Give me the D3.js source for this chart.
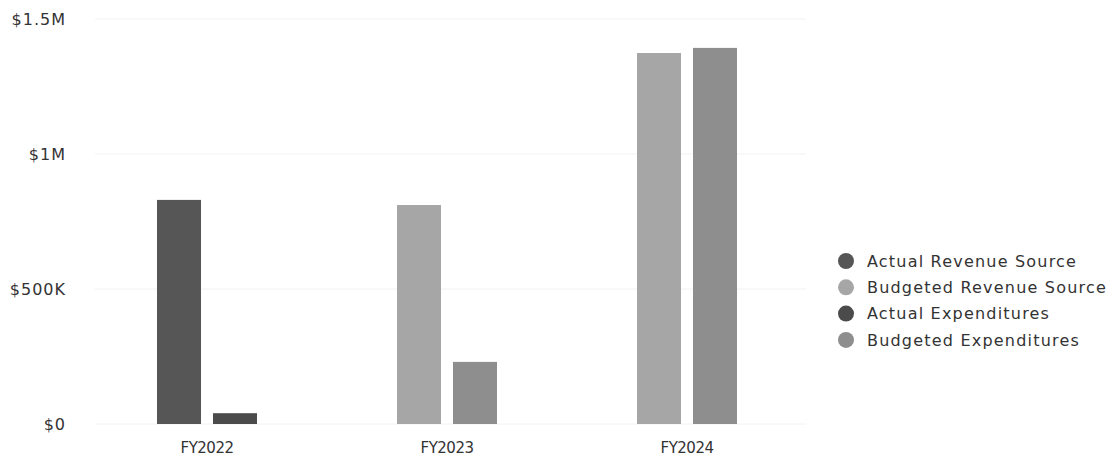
<html>
<script src="https://d3js.org/d3.v7.min.js"></script>
<style>
  body {margin: 0; background: white;}
  text {font-family: "DejaVu Sans", sans-serif; fill: #333;}
</style>
<body>
<svg width=1119 height=458></svg>
<script>
// data
var years = ["FY2022", "FY2023", "FY2024"]
var revenueValues = [830000, 811000, 1374000]
var revenueKind = ["Actual Revenue Source", "Budgeted Revenue Source", "Budgeted Revenue Source"]
var expenditureValues = [40000, 230000, 1393000]
var expenditureKind = ["Actual Expenditures", "Budgeted Expenditures", "Budgeted Expenditures"]
var legendLabels = ["Actual Revenue Source", "Budgeted Revenue Source", "Actual Expenditures", "Budgeted Expenditures"]
var legendColors = ["#565656", "#a6a6a6", "#4b4b4b", "#8e8e8e"]
var yTicks = [0, 500000, 1000000, 1500000]
var yTickLabels = ["$0", "$500K", "$1M", "$1.5M"]

var svg = d3.select("svg")
var color = d3.scaleOrdinal().domain(legendLabels).range(legendColors)

var x = d3.scaleBand().domain(years).range([87, 807])
var xInner = d3.scaleBand().domain(["rev", "exp"]).range([0, x.bandwidth()])
  .paddingInner(0.214).paddingOuter(1.25)
var y = d3.scaleLinear().domain([0, 1500000]).range([424, 19])

// faint grid
svg.append("g").selectAll("line").data(yTicks).enter().append("line")
  .attr("x1", 95).attr("x2", 806)
  .attr("y1", d => y(d)).attr("y2", d => y(d))
  .attr("stroke", "#f2f2f2").attr("stroke-width", 1)

// y labels
svg.append("g").selectAll("text").data(yTicks).enter().append("text")
  .attr("x", 66).attr("y", d => y(d)).attr("dy", "0.36em")
  .attr("text-anchor", "end").attr("font-size", "16px")
  .attr("letter-spacing", "1px")
  .text((d, i) => yTickLabels[i])

var rows = years.map(function(yr, i) {
  return [
    {year: yr, key: "rev", value: revenueValues[i], kind: revenueKind[i]},
    {year: yr, key: "exp", value: expenditureValues[i], kind: expenditureKind[i]}
  ]
})

svg.append("g").selectAll("g").data(rows).enter().append("g")
  .attr("transform", (d, i) => "translate(" + x(years[i]) + ",0)")
  .selectAll("rect").data(d => d).enter().append("rect")
  .attr("x", d => xInner(d.key))
  .attr("width", xInner.bandwidth())
  .attr("y", d => y(d.value))
  .attr("height", d => y(0) - y(d.value))
  .attr("fill", d => color(d.kind))

// x labels
svg.append("g").selectAll("text").data(years).enter().append("text")
  .attr("x", d => x(d) + x.bandwidth() / 2).attr("y", 453)
  .attr("text-anchor", "middle").attr("font-size", "15px")
  .attr("letter-spacing", "-0.5px")
  .text(d => d)

// legend
var legend = svg.append("g").selectAll("g").data(legendLabels).enter().append("g")
  .attr("transform", (d, i) => "translate(846," + (261 + i * 26.3) + ")")
legend.append("circle").attr("r", 8).attr("fill", d => color(d))
legend.append("text").attr("x", 21).attr("dy", "0.36em")
  .attr("font-size", "16px").attr("letter-spacing", "1.2px").text(d => d)
</script>
</body>
</html>
